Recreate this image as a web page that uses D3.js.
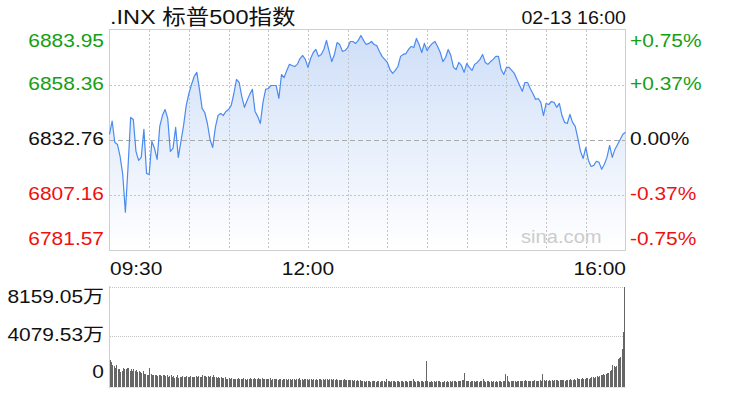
<!DOCTYPE html>
<html><head><meta charset="utf-8">
<script src="https://cdn.jsdelivr.net/npm/d3@7/dist/d3.min.js"></script>
<style>
html,body{margin:0;padding:0;background:#fff;overflow:hidden}
text{font-family:"Liberation Sans",Arial,"Noto Sans CJK SC",sans-serif}
</style>
</head><body>
<svg id="c" width="736" height="402"></svg>
<script>
// ---------------- data ----------------
const titleText = ".INX 标普500指数";
const stampText = "02-13 16:00";
const prevClose = 6832.76;
const priceTicks = [6883.95, 6858.36, 6832.76, 6807.16, 6781.57];
const pctTicks = ["+0.75%", "+0.37%", "0.00%", "-0.37%", "-0.75%"];
const timeLabels = ["09:30", "12:00", "16:00"];
const timeLabelMinutes = [0, 150, 390];
const gridMinutes = [30, 60, 90, 120, 150, 180, 210, 240, 270, 300, 330, 360];
const volTicks = [8159.05, 4079.53, 0];
const volTickLabels = ["8159.05万", "4079.53万", "0"];

// price every 2 minutes from 09:30 (minute 0) to 16:00 (minute 390)
const priceMinutes = d3.range(0, 391, 2);
const prices = [
6835.4,6841.5,6831.7,6830.7,6825.2,6816.8,6799.3,6820.1,6843.2,6842.3,
6827.5,6823.3,6824.7,6837.7,6817.3,6816.8,6832.1,6828.9,6823.8,6839.1,
6844.1,6846.9,6842.8,6827.5,6828.9,6838.6,6824.7,6832.1,6839.5,6848.8,
6854.3,6858.5,6862.2,6864.1,6856.2,6847.4,6845.5,6840.4,6833.0,6829.3,
6838.6,6844.1,6845.1,6844.1,6846.0,6846.9,6848.8,6854.3,6860.8,6859.4,
6852.9,6847.9,6851.1,6853.9,6856.2,6846.0,6843.7,6840.4,6850.2,6856.2,
6856.6,6858.0,6858.0,6858.0,6852.0,6863.1,6861.7,6865.0,6867.8,6867.3,
6866.8,6867.8,6870.5,6871.9,6870.1,6866.4,6870.5,6873.3,6874.7,6871.5,
6872.4,6874.7,6878.9,6873.8,6869.1,6872.4,6877.9,6877.0,6873.8,6874.2,
6875.6,6878.4,6878.4,6877.5,6878.9,6881.2,6878.9,6877.0,6877.5,6878.4,
6877.0,6876.5,6873.8,6871.5,6870.1,6868.7,6865.4,6863.6,6865.0,6866.8,
6871.5,6872.4,6872.8,6874.7,6876.1,6875.6,6879.8,6877.0,6873.3,6877.5,
6874.2,6876.1,6877.5,6878.4,6876.1,6873.3,6869.1,6871.0,6874.7,6871.9,
6866.4,6865.4,6868.7,6867.3,6864.1,6868.2,6866.4,6865.0,6867.8,6868.7,
6870.1,6872.4,6868.7,6867.8,6869.1,6870.1,6871.5,6871.5,6865.4,6863.1,
6866.4,6866.4,6865.0,6863.6,6860.8,6858.0,6855.3,6859.4,6859.4,6856.6,
6854.3,6851.6,6852.0,6850.2,6844.1,6849.7,6849.2,6850.6,6850.2,6847.9,
6849.7,6844.1,6840.9,6840.4,6844.6,6840.9,6839.1,6833.5,6827.5,6824.2,
6829.3,6823.3,6820.5,6821.0,6822.9,6822.4,6819.2,6821.5,6824.7,6830.3,
6824.7,6828.4,6830.7,6833.0,6835.4,6836.3
];

// volume per minute (万), 390 minutes
const volumes = [
2180,2020,1780,1700,1500,1750,1400,1450,1200,1250,
1550,1400,1400,1500,1550,1300,1450,1300,1450,1250,
1350,1200,1300,1150,1100,1250,1000,1050,900,950,
1550,1000,900,950,900,950,850,900,950,850,
900,900,850,950,800,850,900,800,850,700,
750,900,700,750,800,850,750,800,820,760,
800,850,780,740,800,820,760,860,800,780,
900,820,850,800,880,760,840,800,900,780,
760,700,800,720,780,700,680,760,640,620,
660,600,680,620,650,600,640,660,600,650,
580,700,620,560,640,600,680,620,580,660,
600,640,700,580,620,660,600,640,580,620,
600,680,560,600,620,580,640,560,600,620,
540,600,580,640,560,620,600,540,580,620,
560,600,580,660,560,600,540,620,580,600,
560,600,620,560,580,540,600,560,620,580,
560,600,540,580,620,560,600,580,540,600,
540,580,560,520,560,540,560,580,520,540,
520,500,540,500,480,520,480,500,460,500,
460,420,440,400,460,420,440,400,450,420,
440,400,460,420,380,440,420,460,400,650,
420,440,400,460,420,440,400,430,460,400,
420,440,400,460,420,380,440,420,480,650,
440,400,420,460,380,440,420,400,460,2100,
480,380,400,420,380,440,400,460,420,440,
380,400,360,420,400,440,380,420,400,440,
420,460,400,440,480,420,500,560,1080,460,
420,480,400,440,420,460,400,440,420,380,
440,460,620,420,400,460,420,380,440,400,
420,380,440,400,460,420,380,440,460,1000,
820,420,400,440,460,420,440,400,460,420,
440,480,420,460,500,440,460,420,480,440,
460,500,440,480,460,520,480,980,500,460,
520,480,500,460,520,480,540,500,520,480,
560,500,540,520,480,560,520,540,580,520,
560,600,540,700,620,580,650,700,640,600,
680,720,650,700,760,800,720,780,850,760,
880,900,950,1050,950,1000,1080,1100,1300,1350,
1750,1700,1620,1650,2250,2300,2420,3100,4450,8159.05
];

// ---------------- chart ----------------
const svg = d3.select("#c");
const green = "#14a014", red = "#f01010", black = "#111";
const SX = 1.12;

const x = d3.scaleLinear().domain([0, 390]).range([109.5, 625.5]);
const y = d3.scaleLinear().domain([priceTicks[4], priceTicks[0]]).range([250.5, 29.5]);
const vy = d3.scaleLinear().domain([0, volTicks[0]]).range([386.5, 286.5]);

function label(txt, px, py, anchor, color, size) {
  svg.append("g")
    .attr("transform", `translate(${px},${py}) scale(${SX},1)`)
    .append("text")
    .attr("text-anchor", anchor)
    .attr("fill", color)
    .style("font-size", size + "px")
    .text(txt);
}

// gradient
const defs = svg.append("defs");
const grad = defs.append("linearGradient").attr("id", "g1")
  .attr("x1", 0).attr("y1", 0).attr("x2", 0).attr("y2", 1);
grad.append("stop").attr("offset", "0%").attr("stop-color", "#cfdff8");
grad.append("stop").attr("offset", "100%").attr("stop-color", "#ffffff");

// area
const pts = priceMinutes.map((m, i) => [m, prices[i]]);
svg.append("path")
  .datum(pts)
  .attr("fill", "url(#g1)")
  .attr("d", d3.area().x(d => x(d[0])).y0(250.5).y1(d => y(d[1])));

// gridlines
const grid = svg.append("g").attr("shape-rendering", "crispEdges");
gridMinutes.forEach(m => {
  const gx = Math.round(x(m)) + 0.5;
  grid.append("line").attr("x1", gx).attr("x2", gx).attr("y1", 30).attr("y2", 250)
    .attr("stroke", "#c4c4c4").attr("stroke-dasharray", "2,2");
});
[priceTicks[1], priceTicks[3]].forEach(v => {
  const gy = Math.round(y(v)) + 0.5;
  grid.append("line").attr("x1", 110).attr("x2", 625).attr("y1", gy).attr("y2", gy)
    .attr("stroke", "#c4c4c4").attr("stroke-dasharray", "2,2");
});
{
  const gy = Math.round(y(prevClose)) + 0.5;
  grid.append("line").attr("x1", 110).attr("x2", 625).attr("y1", gy).attr("y2", gy)
    .attr("stroke", "#a8a8a8").attr("stroke-dasharray", "5,3");
}
// border
grid.append("rect").attr("x", 109.5).attr("y", 29.5).attr("width", 516).attr("height", 221)
  .attr("fill", "none").attr("stroke", "#cfcfcf");

// line
svg.append("path")
  .datum(pts)
  .attr("fill", "none")
  .attr("stroke", "#4b8bf0")
  .attr("stroke-width", 1.2)
  .attr("stroke-linejoin", "round")
  .attr("d", d3.line().x(d => x(d[0])).y(d => y(d[1])));

// watermark
label("sina.com", 521, 243, "start", "#cccccc", 18);

// title
label(titleText, 110, 24, "start", "#111", 21);
label(stampText, 626, 24, "end", "#111", 17.5);

// price labels left & right
const lblSize = 18.7;
priceTicks.forEach((v, i) => {
  let by;
  if (i === 0) by = y(v) + 17.2;
  else if (i === priceTicks.length - 1) by = y(v) - 5.5;
  else by = y(v) + 5.2;
  const col = v > prevClose ? green : (v < prevClose ? red : black);
  label(d3.format(".2f")(v), 104, by, "end", col, lblSize);
  label(pctTicks[i], 630, by, "start", col, lblSize);
});

// time labels
timeLabels.forEach((t, i) => {
  const m = timeLabelMinutes[i];
  const anchor = i === 0 ? "start" : (i === timeLabels.length - 1 ? "end" : "middle");
  const px = i === 0 ? 110 : (i === timeLabels.length - 1 ? 626 : x(m));
  label(t, px, 274.5, anchor, "#111", lblSize);
});

// volume panel
const vg = svg.append("g").attr("shape-rendering", "crispEdges");
[volTicks[0], volTicks[1]].forEach(v => {
  const gy = Math.round(vy(v)) + 0.5;
  vg.append("line").attr("x1", 110).attr("x2", 626).attr("y1", gy).attr("y2", gy)
    .attr("stroke", "#c4c4c4").attr("stroke-dasharray", "1,1");
});
vg.append("line").attr("x1", 109.5).attr("x2", 109.5).attr("y1", 286).attr("y2", 387.5)
  .attr("stroke", "#cfcfcf");
vg.append("line").attr("x1", 110).attr("x2", 626).attr("y1", 387.5).attr("y2", 387.5)
  .attr("stroke", "#e4e4e4");

vg.selectAll("rect.v").data(volumes).enter().append("rect")
  .attr("class", "v")
  .attr("x", (d, k) => Math.floor(x(k + 0.5)))
  .attr("width", 1)
  .attr("y", d => vy(d))
  .attr("height", d => 386.5 - vy(d) + 0.5)
  .attr("fill", "#666");

volTicks.forEach((v, i) => {
  let by;
  if (i === 0) by = vy(v) + 16.9;
  else if (i === volTicks.length - 1) by = vy(v) - 8.6;
  else by = vy(v) + 5.0;
  label(volTickLabels[i], 104, by, "end", "#111", lblSize);
});
</script>
</body></html>
